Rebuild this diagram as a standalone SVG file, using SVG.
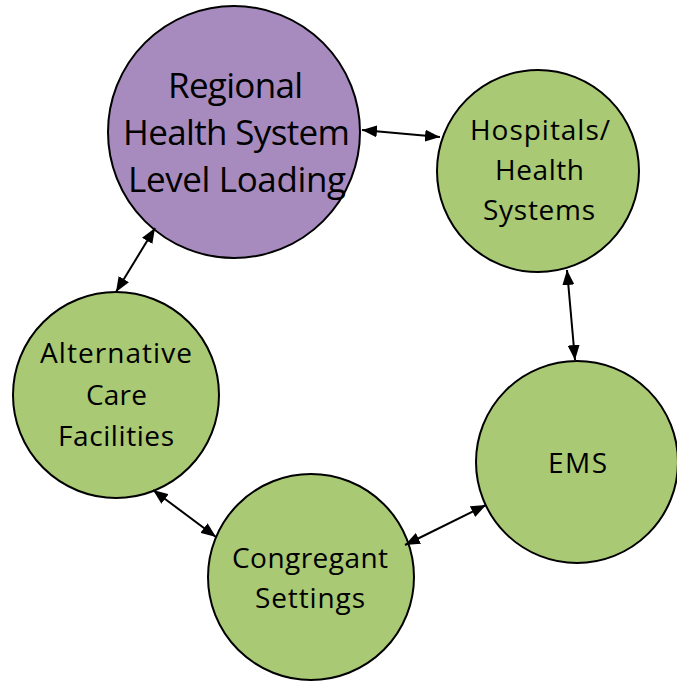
<svg xmlns="http://www.w3.org/2000/svg" width="677" height="681" viewBox="0 0 677 681">
<style>
.node{stroke:#000;stroke-width:2}
.green{fill:#A9C974}
.purple{fill:#A78BBF}
.lbl{font-family:"Open Sans",Lato,sans-serif;fill:#000;text-anchor:middle}
.big{font-size:35px}
.small{font-size:28px}
.conn line{stroke:#000;stroke-width:2;marker-start:url(#ah);marker-end:url(#ah)}
</style>
<defs>
<marker id="ah" viewBox="0 0 15 12" refX="15" refY="6" markerWidth="15" markerHeight="12" orient="auto-start-reverse" markerUnits="userSpaceOnUse">
<path d="M0,0 L15,6 L0,12 z" fill="#000"/>
</marker>
</defs>
<rect width="677" height="681" fill="#fff"/>
<g id="regional">
<circle class="node purple" cx="234" cy="132" r="126"/>
<text class="lbl big" x="235.5" y="98" textLength="135">Regional</text>
<text class="lbl big" x="236.5" y="145" textLength="227">Health System</text>
<text class="lbl big" x="237" y="192" textLength="218">Level Loading</text>
</g>
<g id="hospitals">
<circle class="node green" cx="538" cy="171" r="101"/>
<text class="lbl small" x="540" y="140" textLength="140">Hospitals/</text>
<text class="lbl small" x="539.5" y="180" textLength="89">Health</text>
<text class="lbl small" x="539" y="220" textLength="112">Systems</text>
</g>
<g id="ems">
<circle class="node green" cx="577" cy="462" r="101"/>
<text class="lbl small" x="577.5" y="473" textLength="59">EMS</text>
</g>
<g id="alternative">
<circle class="node green" cx="116" cy="395" r="103"/>
<text class="lbl small" x="116" y="363" textLength="152">Alternative</text>
<text class="lbl small" x="116.5" y="405" textLength="61">Care</text>
<text class="lbl small" x="116" y="446" textLength="116">Facilities</text>
</g>
<g id="congregant">
<circle class="node green" cx="311" cy="577" r="103"/>
<text class="lbl small" x="310" y="568" textLength="156">Congregant</text>
<text class="lbl small" x="310" y="608" textLength="110">Settings</text>
</g>
<g id="connectors" class="conn">
<line x1="362" y1="130" x2="440" y2="137"/>
<line x1="567" y1="270" x2="575" y2="360"/>
<line x1="486" y1="505" x2="405" y2="545"/>
<line x1="216" y1="537" x2="153" y2="490"/>
<line x1="116" y1="292" x2="155" y2="228"/>
</g>
</svg>
